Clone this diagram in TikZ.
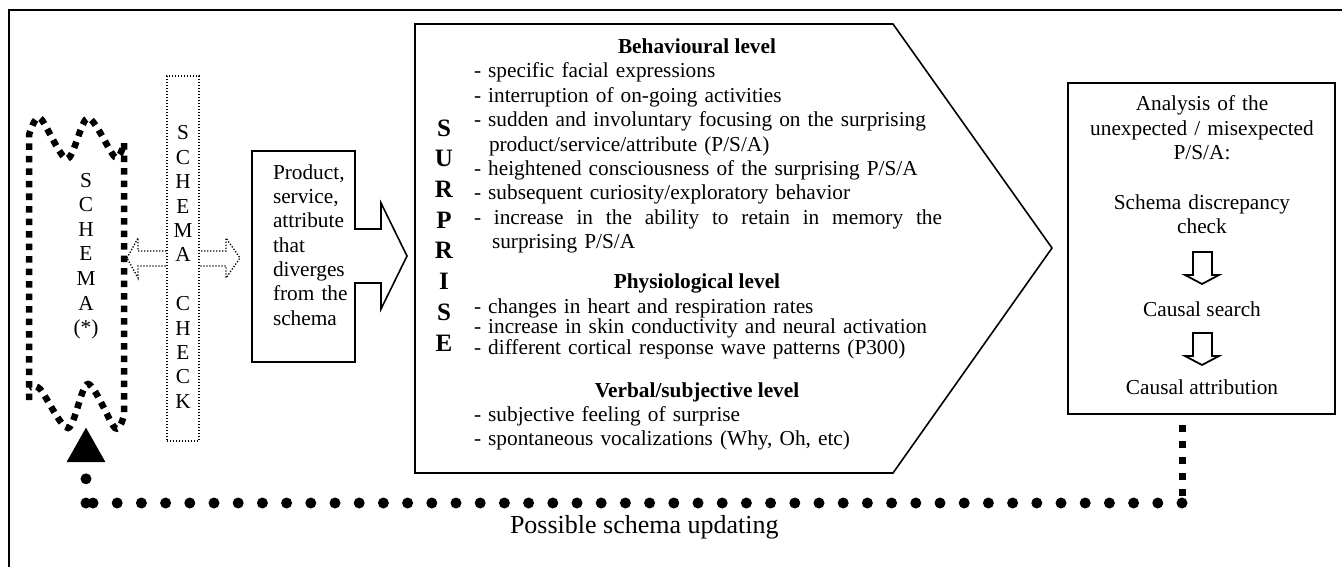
\documentclass[tikz,border=0pt]{standalone}
\usepackage{fontspec}
\setmainfont{Liberation Serif}
\usetikzlibrary{arrows.meta}

\begin{document}
\begin{tikzpicture}[x=1pt, y=-1pt, outer sep=0pt, inner sep=0pt]

\tikzstyle{txt}=[font=\fontsize{21.3}{24.4}\selectfont]
\tikzstyle{head}=[font=\fontsize{21.3}{24.4}\selectfont\bfseries, anchor=base]
\tikzstyle{item}=[txt, anchor=base west, text width=480pt, align=left]
\tikzstyle{boxline}=[line width=1.6pt, line join=miter]
\tikzstyle{fineDots}=[line width=1.3pt, dash pattern=on 1.3pt off 1.7pt]
\tikzstyle{squareDots}=[line width=7pt, dash pattern=on 7pt off 9pt]
\tikzstyle{roundDots}=[line width=11pt, line cap=round, dash pattern=on 0pt off 24.2pt]

\useasboundingbox (0,0) rectangle (1342,567);
\draw[line width=2.2pt] (9,567) -- (9,10) -- (1342,10);

% schema with wavy ends
\node[txt, anchor=base, text width=40pt, align=center, font=\fontsize{21.3}{24.6}\selectfont] (schema) at (86,187) {S\\C\\H\\E\\M\\A\\(*)};
\draw[line width=6.5pt, dash pattern=on 6.5pt off 6pt] (29,400) -- (29,135) -- plot[smooth] coordinates {(29,135) (40,118) (67,159) (88,118) (115,157) (124,143)} -- (124,415) -- plot[smooth] coordinates {(124,415) (115,428) (88,384) (68,428) (40,389) (29,388)};

% schema check
\draw[fineDots] (127,258) -- (138,238) -- (138,251) -- (226,251) -- (226,238) -- (240,258) -- (226,278) -- (226,266) -- (138,266) -- (138,278) -- cycle;
\node[draw, fineDots, fill=white, minimum width=32pt, minimum height=365pt] (check) at (183,258.5) {};
\node[txt, anchor=base, text width=30pt, align=center] (checkTxt) at (183,140) {S\\C\\H\\E\\M\\A\\[24.4pt]C\\H\\E\\C\\K};

% product callout
\draw[boxline] (252,151) -- (355,151) -- (355,229) -- (381,229) -- (381,203) -- (407,256) -- (381,309) -- (381,283) -- (355,283) -- (355,362) -- (252,362) -- cycle;
\node[txt, anchor=base west, text width=85pt, align=left] (prod) at (273,179) {Product,\\service,\\attribute\\that\\diverges\\from the\\schema};

% surprise
\draw[boxline] (415,24) -- (893,24) -- (1052,248) -- (893,473) -- (415,473) -- cycle;
\foreach \l [count=\i] in {S,U,R,P,R,I,S,E} \node[font=\fontsize{25}{30}\selectfont\bfseries] (sur\i) at (444,{128+30.7*(\i-1)}) {\l};
\node[head] (behav) at (697,54) {Behavioural level};
\node[head] (physio) at (697,288) {Physiological level};
\node[head] (verbal) at (697,397) {Verbal/subjective level};
\node[item] (behavList) at (474,78) {- specific facial expressions\\- interruption of on-going activities\\- sudden and involuntary focusing on the surprising\\\hspace*{15pt}product/service/attribute (P/S/A)\\- heightened consciousness of the surprising P/S/A\\- subsequent curiosity/exploratory behavior\\\leavevmode\hbox to 468pt{- \hfill increase \hfill in \hfill the \hfill ability \hfill to \hfill retain \hfill in \hfill memory \hfill the}\\\hspace*{18pt}surprising P/S/A};
\node[item, font=\fontsize{21.3}{20.6}\selectfont] (physList) at (474,313) {- changes in heart and respiration rates\\- increase in skin conductivity and neural activation\\- different cortical response wave patterns (P300)};
\node[item, font=\fontsize{21.3}{24}\selectfont] (verbList) at (474,421) {- subjective feeling of surprise\\- spontaneous vocalizations (Why, Oh, etc)};

% analysis
\node[draw, boxline, minimum width=267pt, minimum height=331pt] (analysis) at (1201.5,248.5) {};
\node[txt, anchor=base, text width=260pt, align=center] (anaTxt) at (1202,111) {Analysis of the\\unexpected / misexpected\\P/S/A:};
\node[txt, anchor=base, text width=260pt, align=center] (discTxt) at (1202,209) {Schema discrepancy\\check};
\node[txt, anchor=base] (search) at (1202,316) {Causal search};
\node[txt, anchor=base] (attrib) at (1202,394) {Causal attribution};
\foreach \ya in {252,333} \draw[line width=1.8pt, line join=miter] (1193,\ya) -- (1212,\ya) -- (1212,{\ya+23}) -- (1219,{\ya+23}) -- (1202,{\ya+32}) -- (1185,{\ya+23}) -- (1193,{\ya+23}) -- cycle;

% updating loop
\coordinate (turnR) at (1182,503);
\coordinate (turnL) at (86,503);
\coordinate (schemaBot) at (86,427);
\draw[squareDots, shorten <=11pt] ([xshift=-19.5pt]analysis.south) -- (turnR);
\draw[roundDots] (turnR) -- (turnL);
\draw[roundDots, -{Triangle[length=35pt, width=36pt]}] (turnL) -- (schemaBot);
\node[font=\fontsize{26}{30}\selectfont, anchor=base west] (update) at (510,533) {Possible schema updating};

\end{tikzpicture}
\end{document}
